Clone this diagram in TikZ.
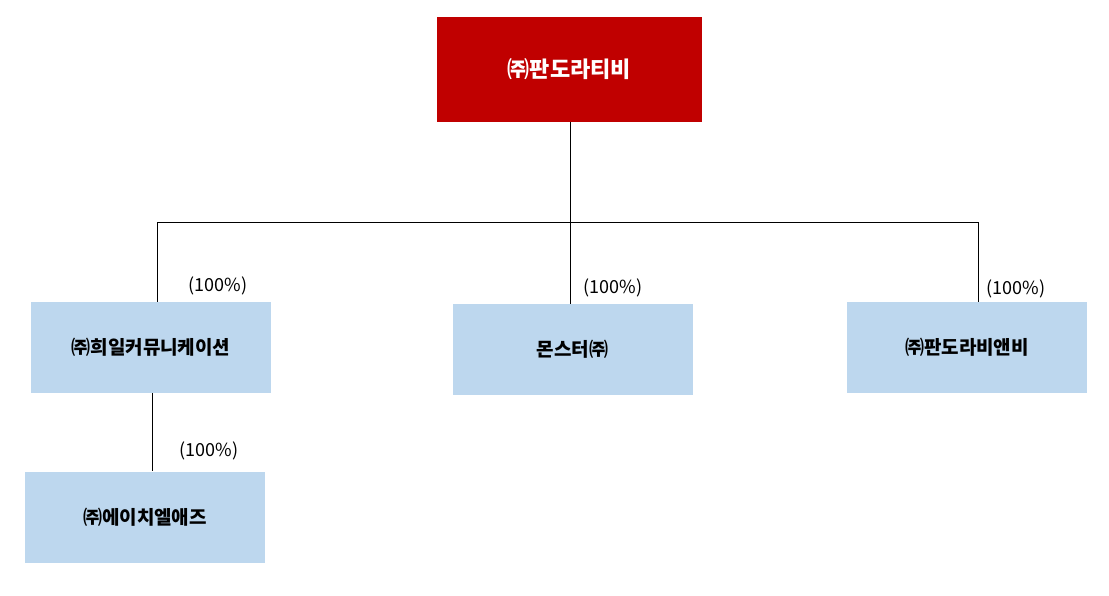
\documentclass[tikz,border=0pt]{standalone}
\usepackage{fontspec}
\setmainfont{Noto Sans CJK KR}
\newfontfamily\lbl{Noto Sans CJK KR}
\definecolor{topred}{HTML}{C00000}
\definecolor{subblue}{HTML}{BDD7EE}
\begin{document}
\begin{tikzpicture}[x=1pt,y=-1pt,
  box/.style={fill=subblue,minimum width=240pt,minimum height=91pt,inner sep=0pt,font=\fontsize{19}{22}\selectfont\bfseries},
  topbox/.style={fill=topred,text=white,minimum width=265pt,minimum height=105pt,inner sep=0pt,font=\fontsize{22}{26}\selectfont\bfseries},
  pct/.style={font=\fontsize{18}{21}\selectfont},
  ln/.style={draw=black,line width=0.8pt}]
\useasboundingbox (0,0) rectangle (1109,595);
\node[topbox] (top) at (569.5,69.5) {㈜판도라티비};
\node[box] (hee) at (151,347.5) {㈜희일커뮤니케이션};
\node[box] (mon) at (572.5,349.5) {몬스터㈜};
\node[box] (and) at (967,347.5) {㈜판도라비앤비};
\node[box] (hc) at (145,517) {㈜에이치엘애즈};
\coordinate (j) at (570,222);
\coordinate (jl) at (157,222);
\coordinate (jr) at (978,222);
\draw[ln] (top.south -| j) -- (j);
\draw[ln] (jl) -- (jr);
\draw[ln] (jl) -- (jl |- hee.north);
\draw[ln] (j) -- (j |- mon.north);
\draw[ln] (jr) -- (jr |- and.north);
\draw[ln] (hee.south -| 152,0) -- (hc.north -| 152,0);
\node[pct] (p1) at (218,286) {(100\%)};
\node[pct] (p2) at (613,288) {(100\%)};
\node[pct] (p3) at (1016,289) {(100\%)};
\node[pct] (p4) at (209,451) {(100\%)};
\end{tikzpicture}
\end{document}
